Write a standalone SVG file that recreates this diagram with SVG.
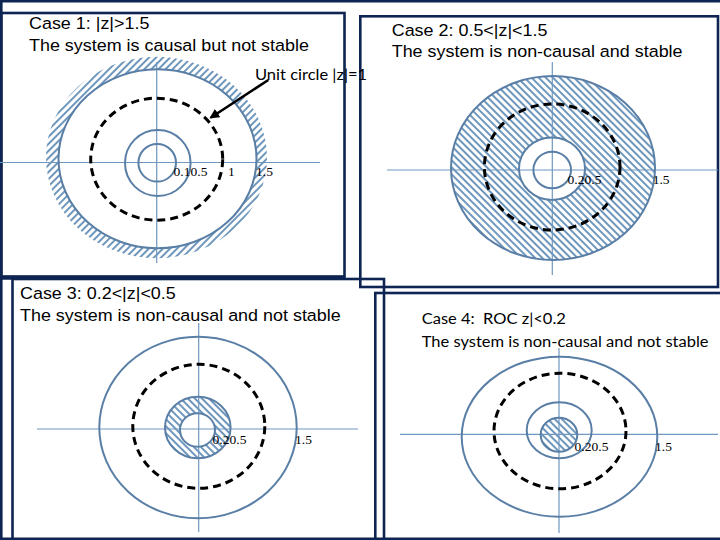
<svg xmlns="http://www.w3.org/2000/svg" width="720" height="540" viewBox="0 0 720 540">
<style>
.frame{fill:none;stroke:#0e2452;stroke-width:2.6}
.ax{stroke:#6f98c0;stroke-width:1.2;fill:none}
.c{fill:none;stroke:#5a7fa6;stroke-width:2}
.d{fill:none;stroke:#000;stroke-width:3;stroke-dasharray:8 5}
.t{font-family:"Liberation Sans",Arial,sans-serif;font-size:16.3px;fill:#000}
.tc{font-family:Lato,"Liberation Sans",sans-serif;font-size:15px;fill:#000}
.n{font-family:"Liberation Serif","Times New Roman",serif;font-size:12.3px;fill:#000}
</style>
<defs>
<pattern id="hF" patternUnits="userSpaceOnUse" width="5" height="5" patternTransform="rotate(45)"><rect width="2" height="5" fill="#6f97bc"/></pattern>
<pattern id="hB" patternUnits="userSpaceOnUse" width="5" height="5" patternTransform="rotate(-45)"><rect width="2" height="5" fill="#6f97bc"/></pattern>
<marker id="ah" markerWidth="10" markerHeight="10" refX="8" refY="5" orient="auto" markerUnits="userSpaceOnUse"><path d="M0,0 L10,5 L0,10 Z" fill="#000"/></marker>
</defs>
<rect width="720" height="540" fill="#fff"/>
<g id="frames">
<line x1="0" y1="1.2" x2="720" y2="1.2" class="frame"/>
<line x1="1.3" y1="0" x2="1.3" y2="540" class="frame"/>
<line x1="0" y1="538.8" x2="720" y2="538.8" class="frame"/>
<rect x="1.3" y="13" width="343.2" height="264" class="frame"/>
<line x1="0" y1="277.5" x2="345" y2="277.5" stroke="#0e2452" stroke-width="4.5"/>
<rect x="360.3" y="16.3" width="357.7" height="270.7" class="frame"/>
<rect x="12.5" y="279" width="371.5" height="270" class="frame"/>
<rect x="375.3" y="293" width="350" height="260" class="frame"/>
</g>
<g id="case1">
<path d="M46,157.5 a110.5,100.7 0 1,0 221,0 a110.5,100.7 0 1,0 -221,0 Z M58.5,158.8 a99,89.5 0 1,0 198,0 a99,89.5 0 1,0 -198,0 Z" fill="url(#hF)" fill-rule="evenodd"/>
<line x1="0" y1="162.5" x2="320" y2="162.5" class="ax"/>
<line x1="156.7" y1="62" x2="156.7" y2="263" class="ax"/>
<ellipse cx="157.2" cy="162.8" rx="18.8" ry="18.8" class="c"/>
<ellipse cx="157.8" cy="163" rx="32.8" ry="33" class="c"/>
<ellipse cx="156.7" cy="159.2" rx="66" ry="61" class="d"/>
<ellipse cx="157.5" cy="158.8" rx="99" ry="89.5" class="c"/>
<text class="t" transform="translate(29,29) scale(1.1,1)">Case 1: |z|&gt;1.5</text>
<text class="t" transform="translate(29,51) scale(1.1,1)">The system is causal but not stable</text>
<text class="n" transform="translate(173.5,176) scale(1.1,1)">0.1</text>
<text class="n" transform="translate(190.5,176) scale(1.1,1)">0.5</text>
<text class="n" transform="translate(228,176) scale(1.1,1)">1</text>
<text class="n" transform="translate(256,176) scale(1.1,1)">1.5</text>
<text class="tc" transform="translate(255,80) scale(1.1,1)">Unit circle |z|=1</text>
</g>
<g id="case2">
<path d="M451,168 a102,92 0 1,0 204,0 a102,92 0 1,0 -204,0 Z M519,168.7 a33,31.3 0 1,0 66,0 a33,31.3 0 1,0 -66,0 Z" fill="url(#hB)" fill-rule="evenodd"/>
<line x1="387" y1="170" x2="718" y2="170" class="ax"/>
<line x1="552.3" y1="62" x2="552.3" y2="275" class="ax"/>
<ellipse cx="552.2" cy="170" rx="18.8" ry="18.3" class="c"/>
<ellipse cx="552" cy="168.7" rx="33" ry="31.3" class="c"/>
<ellipse cx="552.2" cy="167" rx="67.8" ry="63" class="d"/>
<ellipse cx="553" cy="168" rx="102" ry="92" class="c"/>
<text class="t" transform="translate(391.7,36) scale(1.1,1)">Case 2: 0.5&lt;|z|&lt;1.5</text>
<text class="t" transform="translate(391.7,57) scale(1.1,1)">The system is non-causal and stable</text>
<text class="n" transform="translate(567.5,184) scale(1.1,1)">0.2</text>
<text class="n" transform="translate(584.5,184) scale(1.1,1)">0.5</text>
<text class="n" transform="translate(652.7,184) scale(1.1,1)">1.5</text>
</g>
<g id="case3">
<path d="M165,427.5 a32.8,30.8 0 1,0 65.6,0 a32.8,30.8 0 1,0 -65.6,0 Z M180,430 a17.5,16.8 0 1,0 35,0 a17.5,16.8 0 1,0 -35,0 Z" fill="url(#hB)" fill-rule="evenodd"/>
<line x1="37" y1="429" x2="358" y2="429" class="ax"/>
<line x1="198.7" y1="323" x2="198.7" y2="532" class="ax"/>
<ellipse cx="197.5" cy="430" rx="17.5" ry="16.8" class="c"/>
<ellipse cx="197.8" cy="427.5" rx="32.8" ry="30.8" class="c"/>
<ellipse cx="198.8" cy="426.3" rx="66" ry="62" class="d"/>
<ellipse cx="198" cy="427.5" rx="98.7" ry="90.8" class="c"/>
<text class="t" transform="translate(20,299) scale(1.1,1)">Case 3: 0.2&lt;|z|&lt;0.5</text>
<text class="t" transform="translate(20,320.5) scale(1.1,1)">The system is non-causal and not stable</text>
<text class="n" transform="translate(212.5,444) scale(1.1,1)">0.2</text>
<text class="n" transform="translate(229.5,444) scale(1.1,1)">0.5</text>
<text class="n" transform="translate(295,444) scale(1.1,1)">1.5</text>
</g>
<g id="case4">
<ellipse cx="559" cy="434.7" rx="18.3" ry="17" fill="url(#hB)"/>
<line x1="400" y1="434.3" x2="718" y2="434.3" class="ax"/>
<line x1="559" y1="348" x2="559" y2="533" class="ax"/>
<ellipse cx="559" cy="434.7" rx="18.3" ry="17" class="c"/>
<ellipse cx="559.2" cy="430.3" rx="32.5" ry="28" class="c"/>
<ellipse cx="560" cy="431" rx="66" ry="57.8" class="d"/>
<ellipse cx="559.5" cy="436.7" rx="97.8" ry="80" class="c"/>
<text class="tc" xml:space="preserve" transform="translate(421.7,324) scale(1.1,1)">Case 4:  ROC z|&lt;0.2</text>
<text class="tc" transform="translate(421.7,347) scale(1.1,1)">The system is non-causal and not stable</text>
<text class="n" transform="translate(574.5,451) scale(1.1,1)">0.2</text>
<text class="n" transform="translate(591.5,451) scale(1.1,1)">0.5</text>
<text class="n" transform="translate(655,451) scale(1.1,1)">1.5</text>
</g>
<g id="connectors">
<line x1="268.3" y1="80" x2="211" y2="117.5" stroke="#000" stroke-width="2.6" marker-end="url(#ah)"/>
</g>
</svg>
